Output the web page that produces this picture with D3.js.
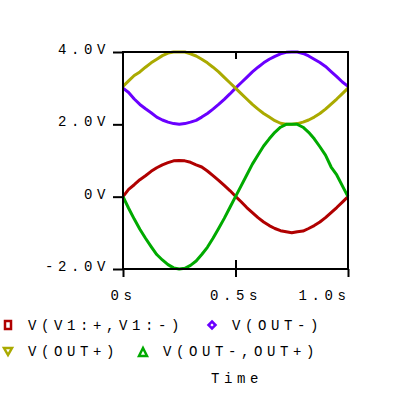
<!DOCTYPE html>
<html>
<head>
<meta charset="utf-8">
<script src="https://cdn.jsdelivr.net/npm/d3@7"></script>
<style>
  body { margin: 0; background: #fff; }
  text { font-family: "Liberation Mono", "DejaVu Sans Mono", monospace; font-size: 14px; fill: #000; letter-spacing: 4.6px; }
</style>
</head>
<body>
<div id="viz"></div>
<script>
// time points 0..1 s, step 0.025
var time = d3.range(41).map(function(i) { return i * 0.025; });

var v1 = [0, 0.2, 0.33, 0.47, 0.58, 0.7, 0.8, 0.88, 0.94, 0.99, 1.0, 0.99, 0.95, 0.88, 0.82, 0.71, 0.58, 0.45, 0.31, 0.17,
  0.01, -0.14, -0.3, -0.44, -0.58, -0.7, -0.8, -0.88, -0.94, -0.97, -1.0, -0.97, -0.95, -0.88, -0.8, -0.7, -0.58, -0.44, -0.3, -0.15, 0];
var outMinus = [3, 2.88, 2.7, 2.55, 2.43, 2.32, 2.2, 2.12, 2.06, 2.02, 2.0, 2.02, 2.06, 2.11, 2.2, 2.3, 2.42, 2.55, 2.69, 2.84,
  3.0, 3.15, 3.3, 3.45, 3.58, 3.7, 3.8, 3.88, 3.95, 3.99, 4.0, 4.0, 3.96, 3.89, 3.8, 3.71, 3.6, 3.46, 3.32, 3.17, 3.05];
var outPlus = [3.05, 3.2, 3.35, 3.45, 3.58, 3.7, 3.8, 3.9, 3.97, 4.0, 4.0, 4.0, 3.95, 3.89, 3.8, 3.7, 3.58, 3.45, 3.3, 3.15,
  3.0, 2.85, 2.7, 2.55, 2.42, 2.3, 2.2, 2.1, 2.03, 2.0, 2.0, 2.02, 2.06, 2.12, 2.2, 2.3, 2.42, 2.56, 2.7, 2.85, 3.0];
var outDiff = [0, -0.32, -0.62, -0.9, -1.15, -1.38, -1.6, -1.75, -1.88, -1.97, -2.0, -1.98, -1.9, -1.78, -1.6, -1.4, -1.15, -0.88, -0.6, -0.3,
  0.0, 0.3, 0.6, 0.9, 1.15, 1.4, 1.6, 1.78, 1.92, 2.0, 2.0, 2.0, 1.92, 1.78, 1.6, 1.38, 1.15, 0.82, 0.6, 0.3, 0];

var yTicks = [-2, 0, 2, 4];
var yLabels = ["-2.0V", "0V", "2.0V", "4.0V"];
var xTicks = [0, 0.5, 1.0];
var xLabels = ["0s", "0.5s", "1.0s"];

var series = [
  { name: "V(V1:+,V1:-)", values: v1, color: "#b00000" },
  { name: "V(OUT-)", values: outMinus, color: "#6a00ff" },
  { name: "V(OUT+)", values: outPlus, color: "#aaaa00" },
  { name: "V(OUT-,OUT+)", values: outDiff, color: "#00aa00" }
];

var width = 400, height = 395;
var x = d3.scaleLinear().domain([0, 1]).range([123, 348]);
var y = d3.scaleLinear().domain([-2, 4]).range([269, 52]);

var svg = d3.select("#viz").append("svg")
  .attr("width", width)
  .attr("height", height);

// traces
var line = d3.line()
  .x(function(d, i) { return x(time[i]); })
  .y(function(d) { return y(d); });

svg.selectAll(".trace")
  .data(series)
  .join("path")
  .attr("class", "trace")
  .attr("d", function(s) { return line(s.values); })
  .attr("fill", "none")
  .attr("stroke", function(s) { return s.color; })
  .attr("stroke-width", 3)
  .attr("stroke-linejoin", "round");

// frame
svg.append("rect")
  .attr("x", 123).attr("y", 52)
  .attr("width", 225).attr("height", 217)
  .attr("fill", "none")
  .attr("stroke", "#000")
  .attr("stroke-width", 2);

// y axis
var yAxis = svg.append("g")
  .attr("transform", "translate(123,0)")
  .call(d3.axisLeft(y).tickValues(yTicks).tickSize(10).tickSizeOuter(0)
    .tickFormat(function(d, i) { return yLabels[i]; }));
yAxis.select(".domain").remove();
yAxis.selectAll("line").attr("stroke-width", 2);
yAxis.selectAll("text").attr("x", -13).attr("dy", "0.1em")
  .style("font-family", "Liberation Mono").style("font-size", "14px");

// x axis
var xAxis = svg.append("g")
  .attr("transform", "translate(0,269)")
  .call(d3.axisBottom(x).tickValues(xTicks).tickSize(8).tickSizeOuter(0)
    .tickFormat(function(d, i) { return xLabels[i]; }));
xAxis.select(".domain").remove();
xAxis.selectAll("line").attr("stroke-width", 2);
xAxis.selectAll("text").attr("y", 21).attr("dy", "0.7em")
  .style("font-family", "Liberation Mono").style("font-size", "14px");
xAxis.selectAll("text").filter(function(d) { return d === 1.0; })
  .attr("text-anchor", "end")
  .attr("transform", "translate(2,0)");

// inner ticks at mid time
var innerBottom = svg.append("g")
  .attr("transform", "translate(0,269)")
  .call(d3.axisTop(x).tickValues([0.5]).tickSize(9).tickSizeOuter(0).tickFormat(""));
innerBottom.select(".domain").remove();
innerBottom.selectAll("line").attr("stroke-width", 2);

var innerTop = svg.append("g")
  .attr("transform", "translate(0,52)")
  .call(d3.axisBottom(x).tickValues([0.5]).tickSize(7).tickSizeOuter(0).tickFormat(""));
innerTop.select(".domain").remove();
innerTop.selectAll("line").attr("stroke-width", 2);

// legend
var legendPos = [
  { mx: 8, my: 325, tx: 28, ty: 330 },
  { mx: 212, my: 325, tx: 232, ty: 330 },
  { mx: 8, my: 351, tx: 28, ty: 356 },
  { mx: 143, my: 352, tx: 163, ty: 356 }
];
var markers = ["square", "diamond", "down", "up"];

var leg = svg.selectAll(".leg")
  .data(series)
  .join("g")
  .attr("class", "leg");

leg.append("path")
  .attr("transform", function(s, i) { return "translate(" + legendPos[i].mx + "," + legendPos[i].my + ")"; })
  .attr("d", function(s, i) {
    var m = markers[i];
    if (m === "square") return "M-3,-4H3V4H-3Z";
    if (m === "diamond") return "M0,-3.5L3.5,0L0,3.5L-3.5,0Z";
    if (m === "down") return "M-4,-3H4L0,4Z";
    return "M0,-4L4,4H-4Z";
  })
  .attr("fill", "none")
  .attr("stroke", function(s) { return s.color; })
  .attr("stroke-width", 2.5);

leg.append("text")
  .attr("x", function(s, i) { return legendPos[i].tx; })
  .attr("y", function(s, i) { return legendPos[i].ty; })
  .text(function(s) { return s.name; });

svg.append("text")
  .attr("x", 211).attr("y", 383)
  .text("Time");
</script>
</body>
</html>
